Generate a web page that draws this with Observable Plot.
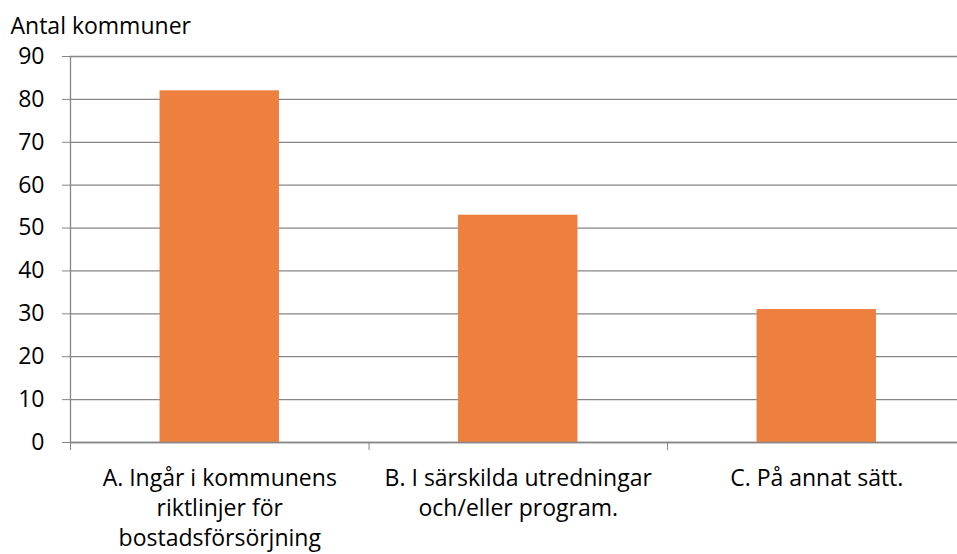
<!DOCTYPE html>
<html><head><meta charset="utf-8">
<script src="https://cdn.jsdelivr.net/npm/d3@7"></script>
<script src="https://cdn.jsdelivr.net/npm/@observablehq/plot@0.6"></script>
<style>
html,body{margin:0;padding:0;background:#fff;}
svg{font-family:"Open Sans",sans-serif;}
</style>
</head><body>
<div id="chart"></div>
<script>
const categories = ["A. Ingår i kommunens\nriktlinjer för\nbostadsförsörjning", "B. I särskilda utredningar\noch/eller program.", "C. På annat sätt."];
const values = [82, 53, 31];
const yTicks = [0, 10, 20, 30, 40, 50, 60, 70, 80, 90];
const yTitle = "Antal kommuner";

const data = categories.map((c, i) => ({i, c, v: values[i]}));
const boundaries = d3.range(categories.length + 1);
const FS = 23;

const chart = Plot.plot({
  width: 957,
  height: 554,
  marginTop: 56,
  marginBottom: 112,
  marginLeft: 70,
  marginRight: 0,
  style: {fontSize: FS + "px", fontFamily: "'Open Sans', sans-serif", color: "#000", background: "#fff"},
  x: {type: "linear", domain: [0, categories.length], range: [70, 965.5]},
  y: {domain: [0, 90], range: [442, 56]},
  marks: [
    Plot.gridY(yTicks, {stroke: "#868686", strokeOpacity: 1, strokeWidth: 1.3}),
    Plot.axisY(yTicks, {tickSize: 8, tickPadding: 18, stroke: "#868686", label: null, fontSize: FS}),
    Plot.axisX(boundaries, {tickSize: 8, tickFormat: () => "", stroke: "#868686", label: null}),
    Plot.ruleX([0], {y1: 0, y2: 90, stroke: "#868686", strokeWidth: 1.3}),
    Plot.rectY(data, {x1: d => d.i + 0.3, x2: d => d.i + 0.7, y: "v", fill: "#EE803F"}),
    Plot.ruleY([0], {stroke: "#868686", strokeWidth: 1.3}),
    Plot.text(data, {x: d => d.i + 0.5, y: 0, text: "c", lineAnchor: "top", dy: 22.5, lineHeight: 1.3, fontSize: FS, fill: "#000"}),
    Plot.text([yTitle], {frameAnchor: "top-left", dx: -60, dy: -23, lineAnchor: "bottom", textAnchor: "start", fontSize: FS, fill: "#000"})
  ]
});
document.getElementById("chart").appendChild(chart);
</script>
</body></html>
